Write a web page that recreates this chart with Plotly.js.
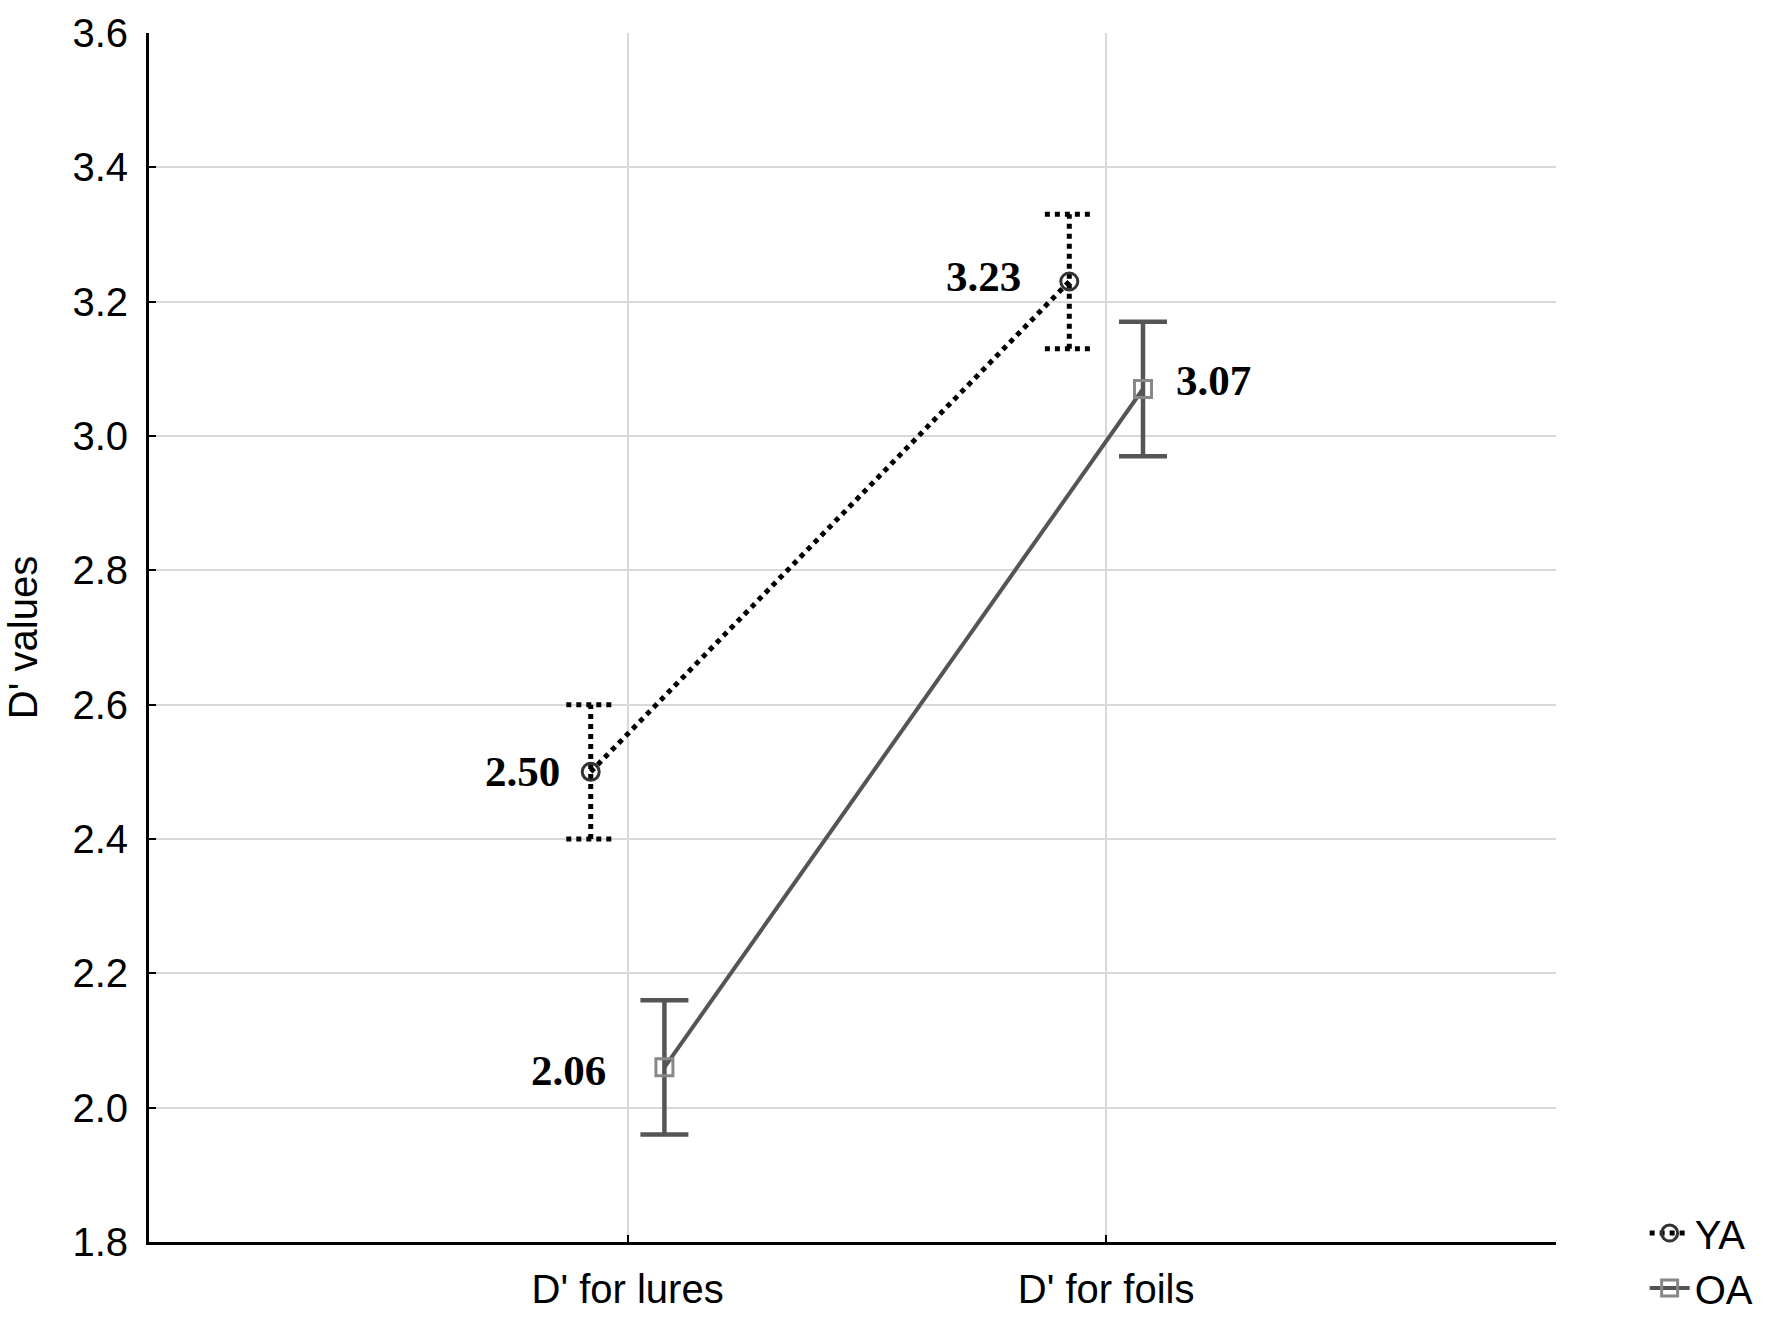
<!DOCTYPE html>
<html>
<head>
<meta charset="utf-8">
<script src="https://cdn.plot.ly/plotly-3.0.1.min.js"></script>
<style>html,body{margin:0;padding:0;background:#fff;}#chart{width:1771px;height:1319px;}</style>
</head>
<body>
<div id="chart"></div>
<script>
// ---- data ----
const categories = ["D' for lures", "D' for foils"];
const groups = ["YA", "OA"];
const yaValues = [2.50, 3.23];
const oaValues = [2.06, 3.07];
const yaErrors = [0.10, 0.10];
const oaErrors = [0.10, 0.10];
const yTicks = [1.8, 2.0, 2.2, 2.4, 2.6, 2.8, 3.0, 3.2, 3.4, 3.6];

// ---- style ----
const catPos = categories.map((c, i) => i);
const dodge = 0.077;
const capHalf = 0.051;
const yaX = catPos.map(p => p - dodge);
const oaX = catPos.map(p => p + dodge);

// dotted error bars for YA built from data
const ebX = [], ebY = [];
yaX.forEach((x, i) => {
  const lo = yaValues[i] - yaErrors[i], hi = yaValues[i] + yaErrors[i];
  ebX.push(x, x, null, x - capHalf, x + capHalf, null, x - capHalf, x + capHalf, null);
  ebY.push(lo, hi, null, hi, hi, null, lo, lo, null);
});

const traces = [
  {
    x: ebX, y: ebY, mode: 'lines', showlegend: false, hoverinfo: 'skip',
    line: {color: '#000', width: 5, dash: 'dot'}
  },
  {
    x: yaX, y: yaValues, name: groups[0], mode: 'lines+markers',
    line: {color: '#000', width: 5, dash: 'dot'},
    marker: {symbol: 'circle-open', size: 17, color: '#333', line: {width: 3, color: '#333'}}
  },
  {
    x: oaX, y: oaValues, name: groups[1], mode: 'lines+markers',
    line: {color: '#555', width: 4},
    marker: {symbol: 'square-open', size: 17, color: '#888', line: {width: 3, color: '#888'}},
    error_y: {type: 'data', array: oaErrors, visible: true, color: '#555', thickness: 4.5, width: 24}
  }
];

const labelShift = {
  YA: [{xs: -29, ys: 0, anchor: 'right'}, {xs: -46, ys: 5, anchor: 'right'}],
  OA: [{xs: -56, ys: -3, anchor: 'right'}, {xs: 31, ys: 8, anchor: 'left'}]
};
const annotations = [];
[[yaX, yaValues, 'YA'], [oaX, oaValues, 'OA']].forEach(([xs, vs, g]) => {
  vs.forEach((v, i) => {
    annotations.push({
      x: xs[i], y: v, xref: 'x', yref: 'y', text: v.toFixed(2), showarrow: false,
      xanchor: labelShift[g][i].anchor, yanchor: 'middle',
      xshift: labelShift[g][i].xs, yshift: labelShift[g][i].ys,
      font: {family: 'Liberation Serif, Times New Roman, serif', size: 43, color: '#000', weight: 'bold'}
    });
  });
});

const layout = {
  width: 1771, height: 1319,
  margin: {l: 149, r: 215, t: 33, b: 77, autoexpand: false},
  paper_bgcolor: '#fff', plot_bgcolor: '#fff',
  font: {family: 'Liberation Sans, Arial, sans-serif', size: 40, color: '#000'},
  xaxis: {
    range: [-1.0, 1.94], tickvals: catPos, ticktext: categories,
    showgrid: true, gridcolor: '#d9d9d9', gridwidth: 2,
    showline: true, linecolor: '#000', linewidth: 3,
    ticks: 'inside', ticklen: 7, tickwidth: 2, tickcolor: '#000',
    zeroline: false, tickfont: {size: 40}, ticklabelstandoff: 10
  },
  yaxis: {
    range: [1.8, 3.6], tickvals: yTicks, ticktext: yTicks.map(v => v.toFixed(1)),
    showgrid: true, gridcolor: '#d9d9d9', gridwidth: 2,
    showline: true, linecolor: '#000', linewidth: 3,
    ticks: 'inside', ticklen: 7, tickwidth: 2, tickcolor: '#000',
    zeroline: false, tickfont: {size: 40}, ticklabelstandoff: 10,
    title: {text: "D' values", font: {size: 40}, standoff: 23}
  },
  legend: {
    x: 1.063, y: -0.065, xanchor: 'left', yanchor: 'bottom',
    font: {size: 40}, bgcolor: 'rgba(0,0,0,0)', itemwidth: 40, tracegroupgap: 0
  },
  annotations: annotations,
  showlegend: true
};

Plotly.newPlot('chart', traces, layout, {displayModeBar: false, staticPlot: true});
</script>
</body>
</html>
